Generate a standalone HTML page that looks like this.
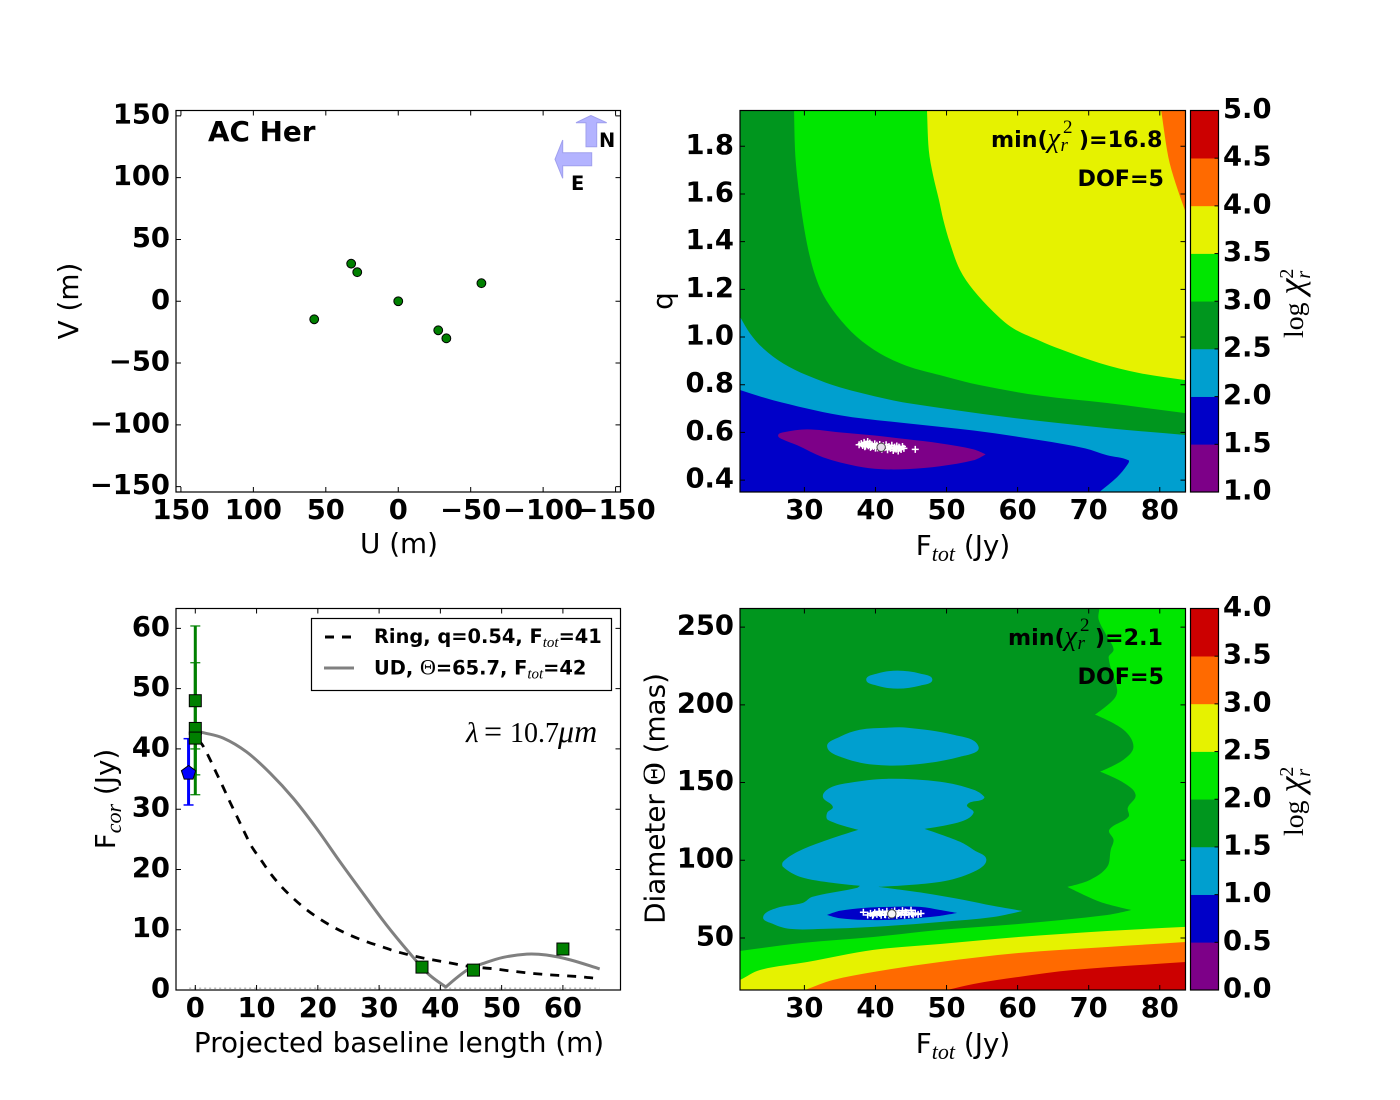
<!DOCTYPE html>
<html lang="en">
<head>
<meta charset="utf-8">
<title>AC Her interferometry fits</title>
<style>
html,body{margin:0;padding:0;background:#fff;}
#chart{display:block;width:1400px;height:1100px;}
text{font-family:"DejaVu Sans","Liberation Sans",sans-serif;fill:#000;}
.tick{font-size:27.4px;font-weight:bold;}
.label{font-size:27.8px;}
.ann{font-size:22.2px;font-weight:bold;}
.leg{font-size:19.4px;font-weight:bold;}
.m{font-family:"Liberation Serif",serif;font-style:italic;font-weight:normal;}
.r{font-family:"Liberation Serif",serif;font-style:normal;font-weight:normal;}
</style>
</head>
<body>
<svg id="chart" xmlns="http://www.w3.org/2000/svg" width="1400" height="1100" viewBox="0 0 1400 1100">
  <rect width="1400" height="1100" fill="#fff"/>
  <g id="layer-marks"></g>

  <g>
    <polygon points="591,115.5 576,122.7 586,122.7 586,146.7 596.7,146.7 596.7,122.7 606.7,122.7" fill="#b3b3ff" stroke="#a0a0ee" stroke-width="1"/>
    <polygon points="555,159.3 562.7,140 562.7,152.7 591.7,152.7 591.7,165.7 562.7,165.7 562.7,178.3" fill="#b3b3ff" stroke="#a0a0ee" stroke-width="1"/>
    <text x="599" y="147" font-size="19.4" font-weight="bold">N</text>
    <text x="571" y="190" font-size="19.4" font-weight="bold">E</text>
  </g>

  <text x="208" y="141" font-size="27.8" font-weight="bold">AC Her</text>
  <text x="399" y="553" text-anchor="middle" class="label">U (m)</text>
  <text transform="translate(78,301) rotate(-90)" text-anchor="middle" class="label">V (m)</text>

  <text x="963" y="555" text-anchor="middle" class="label">F<tspan class="m" font-size="22" dy="6">tot</tspan><tspan dy="-6"> (Jy)</tspan></text>
  <text transform="translate(672,301) rotate(-90)" text-anchor="middle" class="label">q</text>
  <text x="991" y="147" class="ann">min(<tspan class="m" font-size="28">χ</tspan><tspan class="r" font-size="19" dx="3" dy="-14">2</tspan><tspan class="m" font-size="19" dx="-12" dy="18">r</tspan><tspan dx="11" dy="-4">)=16.8</tspan></text>
  <text x="1164" y="186" text-anchor="end" class="ann">DOF=5</text>
  <text transform="translate(1303,338) rotate(-90)" font-size="27.8"><tspan class="r">log</tspan><tspan class="m" font-size="36" dx="8">χ</tspan><tspan class="r" font-size="20" dx="0" dy="-10">2</tspan><tspan class="m" font-size="20" dx="-10" dy="17">r</tspan></text>

  <text x="399" y="1052" text-anchor="middle" class="label">Projected baseline length (m)</text>
  <text transform="translate(115,799) rotate(-90)" text-anchor="middle" class="label">F<tspan class="m" font-size="22" dy="6">cor</tspan><tspan dy="-6"> (Jy)</tspan></text>
  <text y="742" font-size="28"><tspan class="m" x="466" font-size="29">λ</tspan><tspan class="r" x="484" font-size="32">=</tspan><tspan class="r" x="510">10.7</tspan><tspan class="m" x="558" font-size="32">μm</tspan></text>

  <g>
    <rect x="311.5" y="618.5" width="300" height="72" fill="#fff" stroke="#000" stroke-width="1.2"/>
    <line x1="325" y1="637" x2="352" y2="637" stroke="#000" stroke-width="3" stroke-dasharray="9 8"/>
    <line x1="324" y1="668" x2="354" y2="668" stroke="#808080" stroke-width="3"/>
    <text x="374" y="643" class="leg">Ring, q=0.54, F<tspan class="m" font-size="15" dy="4">tot</tspan><tspan dy="-4">=41</tspan></text>
    <text x="374" y="674.5" class="leg">UD, <tspan class="r" font-size="22">Θ</tspan>=65.7, F<tspan class="m" font-size="15" dy="4">tot</tspan><tspan dy="-4">=42</tspan></text>
  </g>

  <text x="963" y="1053" text-anchor="middle" class="label">F<tspan class="m" font-size="22" dy="6">tot</tspan><tspan dy="-6"> (Jy)</tspan></text>
  <text transform="translate(664.5,798.5) rotate(-90)" text-anchor="middle" class="label">Diameter <tspan class="r" font-size="32">Θ</tspan> (mas)</text>
  <text x="1008" y="645" class="ann">min(<tspan class="m" font-size="28">χ</tspan><tspan class="r" font-size="19" dx="3" dy="-14">2</tspan><tspan class="m" font-size="19" dx="-12" dy="18">r</tspan><tspan dx="10" dy="-4">)=2.1</tspan></text>
  <text x="1164" y="684" text-anchor="end" class="ann">DOF=5</text>
  <text transform="translate(1303,836) rotate(-90)" font-size="27.8"><tspan class="r">log</tspan><tspan class="m" font-size="36" dx="8">χ</tspan><tspan class="r" font-size="20" dx="0" dy="-10">2</tspan><tspan class="m" font-size="20" dx="-10" dy="17">r</tspan></text>
</svg>

<script>
// ---------- UV coverage ----------
const uvU = [58, 32.5, 28.3, 0, -27.6, -33.2, -57.4];
const uvV = [-14.6, 30.4, 23.5, 0, -23.5, -30, 14.6];
const uvTicksX = [150, 100, 50, 0, -50, -100, -150];
const uvTicksY = [150, 100, 50, 0, -50, -100, -150];

// ---------- Ring chi2 map (F_tot, q) ----------
const ringTicksX = [30, 40, 50, 60, 70, 80];
const ringTicksY = [0.4, 0.6, 0.8, 1.0, 1.2, 1.4, 1.6, 1.8];
const ringLevels = [1.0, 1.5, 2.0, 2.5, 3.0, 3.5, 4.0, 4.5, 5.0];
const ring40F = [80.2, 81.2, 82.2, 83.62];
const ring40Q = [1.95, 1.755, 1.647, 1.525];
const ring35F = [47.25, 47.5, 48.1, 48.94, 49.55, 50.49, 51.89, 53.77, 56.58, 59.39, 63.15, 66.0, 71.5, 77.1, 83.62];
const ring35Q = [1.95, 1.784, 1.679, 1.574, 1.491, 1.393, 1.281, 1.197, 1.106, 1.036, 0.984, 0.949, 0.891, 0.849, 0.819];
const ring30F = [28.54, 28.68, 28.96, 29.38, 29.85, 30.55, 31.49, 32.66, 34.54, 37.36, 40.64, 44.39, 49.08, 54.7, 63.15, 72.58, 83.62];
const ring30Q = [1.95, 1.784, 1.679, 1.574, 1.477, 1.365, 1.26, 1.176, 1.092, 1.001, 0.931, 0.879, 0.84, 0.798, 0.754, 0.723, 0.681];
const ring25F = [20.94, 22.35, 24.22, 27.03, 30.32, 35.01, 41.58, 44.44, 58.51, 72.58, 83.62];
const ring25Q = [1.085, 1.015, 0.952, 0.889, 0.84, 0.789, 0.74, 0.723, 0.664, 0.618, 0.589];
const ring20F = [20.94, 25.6, 35.0, 44.5, 53.8, 63.2, 69.5, 72.6, 75.6, 75.4, 74.0, 71.5];
const ring20Q = [0.778, 0.735, 0.672, 0.638, 0.608, 0.567, 0.533, 0.504, 0.483, 0.4625, 0.4125, 0.35];
const ring15F = [26.3, 27.0, 30.4, 35.0, 39.7, 44.5, 49.1, 53.8, 55.5, 53.8, 49.1, 44.5, 40.7, 37.4, 32.6, 29.0, 26.9];
const ring15Q = [0.5875, 0.6, 0.6125, 0.6, 0.5875, 0.571, 0.554, 0.529, 0.508, 0.483, 0.458, 0.446, 0.446, 0.458, 0.496, 0.546, 0.571];
const ringCloudF = [37.7,38.0,38.2,38.4,38.5,38.7,38.9,39.0,39.2,39.3,39.5,39.7,39.9,40.0,40.2,40.4,40.6,40.9,41.1,41.3,41.5,41.7,41.9,42.1,42.3,42.5,42.7,42.9,43.0,43.2,43.4,43.6,43.8,44.0,38.6,39.4,40.3,41.6,42.6,43.3,45.6];
const ringCloudQ = [0.548,0.553,0.545,0.558,0.540,0.551,0.562,0.544,0.555,0.537,0.548,0.541,0.552,0.534,0.546,0.538,0.549,0.530,0.544,0.536,0.548,0.527,0.541,0.533,0.546,0.524,0.538,0.530,0.543,0.522,0.535,0.528,0.541,0.533,0.543,0.541,0.535,0.539,0.531,0.538,0.529];
const ringBestF = [40.8];
const ringBestQ = [0.5375];

// ---------- Visibility curves ----------
const visTicksX = [0, 10, 20, 30, 40, 50, 60];
const visTicksY = [0, 10, 20, 30, 40, 50, 60];
const ringCurveX = [0.5, 1.2, 2.24, 3.4, 4.57, 5.7, 6.86, 8.06, 9.2, 10.84, 12.36, 14.2, 16.1, 18.2, 20.6, 22.8, 25.25, 27.7, 30.4, 32.9, 37.2, 41, 44.8, 48.9, 51.9, 56.7, 62.8, 65.7];
const ringCurveY = [41.5, 40.6, 38.6, 36.1, 33.6, 31.1, 28.65, 26.1, 23.8, 21.4, 19.2, 17.0, 15.1, 13.3, 11.6, 10.3, 9.1, 8.1, 7.2, 6.35, 5.3, 4.6, 3.9, 3.5, 3.1, 2.6, 2.2, 1.9];
const udCurveX = [0, 1.3, 4.57, 8.38, 12.2, 16, 19.8, 23.6, 27.4, 31.2, 35, 38, 40.9, 44.5, 47, 50.2, 54.1, 57.3, 61.2, 66];
const udCurveY = [43, 42.7, 41.8, 39.5, 36, 31.8, 26.8, 21.3, 16, 10.8, 6.1, 2.7, 0.5, 3.4, 4.4, 5.4, 5.95, 5.8, 5, 3.5];
const greenX = [0, 0, 0, 37, 45.4, 60];
const greenY = [48, 43.4, 41.8, 3.8, 3.3, 6.8];
const greenLow = [35.7, 32.4, 40, 3.8, 3.3, 6.8];
const greenHigh = [60.4, 54.3, 43.6, 3.8, 3.3, 6.8];
const blueX = [-1.1];
const blueY = [36];
const blueLow = [30.7];
const blueHigh = [41.7];
const zeroLineX = [-1, 66];
const zeroLineY = [0.3, 0.3];

// ---------- UD chi2 map (F_tot, diameter) ----------
const udTicksX = [30, 40, 50, 60, 70, 80];
const udTicksY = [50, 100, 150, 200, 250];
const udLevels = [0.0, 0.5, 1.0, 1.5, 2.0, 2.5, 3.0, 3.5, 4.0];
const ud35F = [50.06, 53.8, 60.1, 67.8, 83.62];
const ud35D = [16.5, 20.4, 24.9, 29.4, 34.5];
const ud30F = [30.1, 34.0, 39.7, 49.1, 60.1, 72.6, 83.62];
const ud30D = [16.5, 22.9, 28.1, 34.5, 40.3, 44.2, 47.4];
const ud25F = [20.94, 23.76, 30.4, 39.7, 49.1, 60.1, 72.6, 83.62];
const ud25D = [22.9, 29.4, 34.5, 42.3, 46.1, 50.6, 54.5, 57.1];
const ud15F = [71.5,71.4,72.6,73.5,72.8,74.0,73.5,70.9,74.9,76.3,74.9,71.6,74.9,76.6,75.5,75.6,72.9,73.5,73.1,72.6,70.2,67.0,71.6,76.0,72.6,60.1,49.1,39.7,29.8,20.94];
const ud15D = [262,254.9,243.9,235.6,230.4,209.8,203.4,193.7,184,173.1,164.7,157,149.9,142.1,133.8,128,119.6,113.1,106.7,95.7,87.4,82.9,73.2,68.0,64.8,59,55.2,50.6,46.8,41.6];
const ud10MainF = [41.6,36.4,33.6,32.6,34.0,33.2,33.3,37.6,32.5,29.0,27.0,27.0,29.4,34.0,37.8,37.4,31.1,29.8,26.1,24.2,25.6,28.0,32.6,39.7,49.1,56.6,60.7,56.6,52.4,46.7,40.4,49.1,53.8,55.6,53.8,51.9,46.9,51.9,53.8,52.9,55.0,55.3,53.8,49.1];
const ud10MainD = [152.4,149.9,146.6,140.9,134.4,130.5,126,119.6,111.9,105.4,99,95.7,89.3,85.4,83.5,82.2,76.4,72.6,69.3,63.5,59,55.8,55.8,57.1,60.3,63.5,67.4,70.6,74.5,79,82.9,86.1,92.5,100.3,106.7,111.9,120.2,124.7,130.5,135.7,138.9,140.9,145.4,150.5];
const ud10MidF = [33.2,35.0,37.8,41.6,44.5,50.9,54.5,51.9,45.3,39.7,35.4];
const ud10MidD = [173.1,179.5,184,185.3,185.3,180.8,173.1,166.6,161.5,161.5,166];
const ud10TopF = [38.7,40.2,43.1,46.3,48,46.3,43.1,40.2];
const ud10TopD = [216.2,220.1,222,220.1,216.2,212.4,210.4,212.4];
const ud05F = [33.2,35.0,38.3,42.1,46.3,49.1,51.5,49.1,46.3,42.1,38.3,35.0];
const ud05D = [64.8,67.5,69.3,70,70,68,66.1,64.2,62.9,61.6,61.6,62.7];
const udCloudF = [38.3,38.9,39.3,39.6,39.9,40.2,40.5,40.8,41.0,41.3,41.6,41.9,42.1,42.4,42.7,43.0,43.3,43.6,43.8,44.1,44.4,44.7,45.0,45.3,45.6,46.0,46.4,39.7,40.6,41.4,42.3,43.2,44.2,45.1];
const udCloudD = [66.5,64.8,65.8,64.4,66.2,65.2,67,64.6,66.4,65.1,67.2,64.8,66,65,67.4,64.6,66.2,65.2,67.6,64.7,66.3,65,67.8,64.9,66,65.2,65.7,65.2,65.9,64.9,66.7,65.7,66.6,65.6];
const udBestF = [42.3];
const udBestD = [65.5];

// ---------- Shared band colours, low to high ----------
const bandColors = ['#7d0088', '#0000c8', '#009fcf', '#00961e', '#00e600', '#e6f200', '#ff6a00', '#cc0000'];

// ---------- Helpers ----------
const NS = 'http://www.w3.org/2000/svg';
const root = document.getElementById('layer-marks');
function scale(d0, d1, p0, p1) {
  return function (v) { return p0 + (v - d0) * (p1 - p0) / (d1 - d0); };
}
function make(tag, props) {
  const node = document.createElementNS(NS, tag);
  for (const k in props) node.setAttribute(k, props[k]);
  root.appendChild(node);
  return node;
}
// Smooth curve through the mapped points; bends whose cosine falls below cornerCos stay sharp.
function curveThrough(pts, closed, cornerCos) {
  const n = pts.length;
  const dirs = pts.map(function (p, i) {
    const prev = closed ? pts[(i - 1 + n) % n] : pts[Math.max(i - 1, 0)];
    const next = closed ? pts[(i + 1) % n] : pts[Math.min(i + 1, n - 1)];
    const ax = p[0] - prev[0], ay = p[1] - prev[1];
    const bx = next[0] - p[0], by = next[1] - p[1];
    const la = Math.hypot(ax, ay), lb = Math.hypot(bx, by);
    const cx = next[0] - prev[0], cy = next[1] - prev[1];
    const lc = Math.hypot(cx, cy) || 1;
    if (la > 0 && lb > 0 && (ax * bx + ay * by) / (la * lb) < cornerCos) return [0, 0];
    return [cx / lc, cy / lc];
  });
  let d = '';
  const count = closed ? n : n - 1;
  for (let i = 0; i < count; i++) {
    const j = (i + 1) % n;
    const len = Math.hypot(pts[j][0] - pts[i][0], pts[j][1] - pts[i][1]) / 3;
    d += 'C' + (pts[i][0] + dirs[i][0] * len).toFixed(2) + ' ' + (pts[i][1] + dirs[i][1] * len).toFixed(2) + ' ' +
      (pts[j][0] - dirs[j][0] * len).toFixed(2) + ' ' + (pts[j][1] - dirs[j][1] * len).toFixed(2) + ' ' +
      pts[j][0].toFixed(2) + ' ' + pts[j][1].toFixed(2);
  }
  return d;
}
function mapped(xs, ys, sx, sy) {
  return xs.map(function (x, i) { return [sx(x), sy(ys[i])]; });
}
function fillRegion(xs, ys, sx, sy, color, name, prefix, suffix, cornerCos) {
  const pts = mapped(xs, ys, sx, sy);
  const closed = !prefix && !suffix;
  const limit = cornerCos !== undefined ? cornerCos : (closed ? -0.5 : 0);
  let d = '';
  (prefix || []).forEach(function (p, i) { d += (i ? 'L' : 'M') + p[0] + ' ' + p[1]; });
  d += (d ? 'L' : 'M') + pts[0][0].toFixed(2) + ' ' + pts[0][1].toFixed(2);
  d += curveThrough(pts, closed, limit);
  (suffix || []).forEach(function (p) { d += 'L' + p[0] + ' ' + p[1]; });
  d += 'Z';
  const el = make('path', { d: d, fill: color });
  
  
}
function drawLine(xs, ys, sx, sy, stroke, width, dash, name) {
  const pts = mapped(xs, ys, sx, sy);
  const d = 'M' + pts[0][0].toFixed(2) + ' ' + pts[0][1].toFixed(2) + curveThrough(pts, false, 0.4);
  const el = make('path', { d: d, fill: 'none', stroke: stroke, 'stroke-width': width, 'stroke-linejoin': 'round' });
  if (dash) el.setAttribute('stroke-dasharray', dash);
  
  
}
function drawPlus(xs, ys, sx, sy, name) {
  for (let i = 0; i < xs.length; i++) {
    const px = sx(xs[i]);
    const py = sy(ys[i]);
    const el = make('path', { d: 'M' + (px - 3.5) + ' ' + py + 'H' + (px + 3.5) + 'M' + px + ' ' + (py - 3.5) + 'V' + (py + 3.5), stroke: '#fff', 'stroke-width': 1.5, fill: 'none' });
    
    
  }
}
function drawBest(xs, ys, sx, sy, fill, name) {
  for (let i = 0; i < xs.length; i++) {
    const el = make('circle', { cx: sx(xs[i]), cy: sy(ys[i]), r: 4.2, fill: fill, stroke: '#444', 'stroke-width': 1 });
    
    
  }
}
function fmt(v, digits) {
  const s = Math.abs(v).toFixed(digits);
  return (v < 0 ? '\u2212' : '') + s;
}
function axes(box, sx, sy, xt, yt, digitsX, digitsY, key) {
  const frame = make('rect', { x: box.l, y: box.t, width: box.r - box.l, height: box.b - box.t, fill: 'none', stroke: '#000', 'stroke-width': 1.2 });
  
  
  xt.forEach(function (v) {
    const px = sx(v);
    const tk = make('path', { d: 'M' + px + ' ' + box.b + 'v-5M' + px + ' ' + box.t + 'v5', stroke: '#000', 'stroke-width': 1, fill: 'none' });
    
    
    const lb = make('text', { x: px, y: box.b + 27, 'text-anchor': 'middle', class: 'tick' });
    
    
    lb.textContent = fmt(v, digitsX);
  });
  yt.forEach(function (v) {
    const py = sy(v);
    const tk = make('path', { d: 'M' + box.l + ' ' + py + 'h5M' + box.r + ' ' + py + 'h-5', stroke: '#000', 'stroke-width': 1, fill: 'none' });
    
    
    const lb = make('text', { x: box.l - 6, y: py + 7.5, 'text-anchor': 'end', class: 'tick' });
    
    
    lb.textContent = fmt(v, digitsY);
  });
}
function colorbar(box, levels, key) {
  const sv = scale(levels[0], levels[levels.length - 1], box.b, box.t);
  for (let i = 0; i < levels.length - 1; i++) {
    const band = make('rect', { x: box.l, y: sv(levels[i + 1]), width: box.r - box.l, height: sv(levels[i]) - sv(levels[i + 1]) + 0.3, fill: bandColors[i] });
    
    
  }
  const frame = make('rect', { x: box.l, y: box.t, width: box.r - box.l, height: box.b - box.t, fill: 'none', stroke: '#000', 'stroke-width': 1.2 });
  
  
  levels.forEach(function (v) {
    const py = sv(v);
    const tk = make('line', { x1: box.r - 4, x2: box.r, y1: py, y2: py, stroke: '#000', 'stroke-width': 1 });
    
    
    const lb = make('text', { x: box.r + 4.5, y: py + 7.5, class: 'tick' });
    
    
    lb.textContent = v.toFixed(1);
  });
}

// ---------- Panel boxes ----------
const boxUV = { l: 176, r: 620.5, t: 110.5, b: 492 };
const boxRing = { l: 740, r: 1185.5, t: 110.5, b: 492 };
const boxVis = { l: 176, r: 620.5, t: 608.5, b: 990 };
const boxUD = { l: 740, r: 1185.5, t: 608.5, b: 990 };

// ---------- UV panel ----------
(function () {
  const sx = scale(153.4, -153.4, boxUV.l, boxUV.r);
  const sy = scale(-154.3, 154.3, boxUV.b, boxUV.t);
  uvU.forEach(function (u, i) {
    const el = make('circle', { cx: sx(u), cy: sy(uvV[i]), r: 4.4, fill: '#008000', stroke: '#000', 'stroke-width': 1 });
    
    
  });
  axes(boxUV, sx, sy, uvTicksX, uvTicksY, 0, 0, 'uv');
})();

// ---------- Ring map ----------
(function () {
  const sx = scale(20.94, 83.62, boxRing.l, boxRing.r);
  const sy = scale(0.35, 1.95, boxRing.b, boxRing.t);
  const L = boxRing.l, R = boxRing.r, T = boxRing.t, B = boxRing.b;
  const base = make('rect', { x: L, y: T, width: R - L, height: B - T, fill: bandColors[6] });
  
  
  fillRegion(ring40F, ring40Q, sx, sy, bandColors[5], 'ring-band-3-5', [[L, T]], [[R, B], [L, B]]);
  fillRegion(ring35F, ring35Q, sx, sy, bandColors[4], 'ring-band-3-0', [[L, T]], [[R, B], [L, B]]);
  fillRegion(ring30F, ring30Q, sx, sy, bandColors[3], 'ring-band-2-5', [[L, T]], [[R, B], [L, B]]);
  fillRegion(ring25F, ring25Q, sx, sy, bandColors[2], 'ring-band-2-0', [], [[R, B], [L, B]]);
  fillRegion(ring20F, ring20Q, sx, sy, bandColors[1], 'ring-band-1-5', [], [[L, B]], -0.5);
  fillRegion(ring15F, ring15Q, sx, sy, bandColors[0], 'ring-band-1-0');
  drawPlus(ringCloudF, ringCloudQ, sx, sy, 'ring-bootstrap-point');
  drawBest(ringBestF, ringBestQ, sx, sy, '#e6dcea', 'ring-best-fit');
  axes(boxRing, sx, sy, ringTicksX, ringTicksY, 0, 1, 'ring-map');
  colorbar({ l: 1190.5, r: 1218.5, t: 110.5, b: 492 }, ringLevels, 'ring-colorbar');
})();

// ---------- Visibility panel ----------
(function () {
  const sx = scale(-3.15, 69.4, boxVis.l, boxVis.r);
  const sy = scale(0, 63.3, boxVis.b, boxVis.t);
  drawLine(zeroLineX, zeroLineY, sx, sy, '#bbbbbb', 1.5, '2 3', 'zero-line');
  drawLine(ringCurveX, ringCurveY, sx, sy, '#000', 2.8, '9 8', 'ring-model-curve');
  drawLine(udCurveX, udCurveY, sx, sy, '#808080', 3, null, 'ud-model-curve');
  greenX.forEach(function (x, i) {
    if (greenHigh[i] === greenLow[i]) return;
    const px = sx(x);
    const bar = make('line', { x1: px, x2: px, y1: sy(greenLow[i]), y2: sy(greenHigh[i]), stroke: '#008000', 'stroke-width': 3 });
    
    
    [greenLow[i], greenHigh[i]].forEach(function (v) {
      const cap = make('line', { x1: px - 5, x2: px + 5, y1: sy(v), y2: sy(v), stroke: '#008000', 'stroke-width': 1.2 });
      
      
    });
  });
  blueX.forEach(function (x, i) {
    const px = sx(x);
    const bar = make('line', { x1: px, x2: px, y1: sy(blueLow[i]), y2: sy(blueHigh[i]), stroke: '#0000ff', 'stroke-width': 3 });
    
    
    [blueLow[i], blueHigh[i]].forEach(function (v) {
      const cap = make('line', { x1: px - 5, x2: px + 5, y1: sy(v), y2: sy(v), stroke: '#0000ff', 'stroke-width': 1.5 });
      
      
    });
  });
  greenX.forEach(function (x, i) {
    const el = make('rect', { x: sx(x) - 6, y: sy(greenY[i]) - 6, width: 12, height: 12, fill: '#008000', stroke: '#000', 'stroke-width': 1 });
    
    
  });
  blueX.forEach(function (x, i) {
    const pts = [];
    for (let k = 0; k < 5; k++) {
      const a = -Math.PI / 2 + k * 2 * Math.PI / 5;
      pts.push((sx(x) + 7.5 * Math.cos(a)).toFixed(1) + ',' + (sy(blueY[i]) + 7.5 * Math.sin(a)).toFixed(1));
    }
    const el = make('polygon', { points: pts.join(' '), fill: '#0000ff', stroke: '#000', 'stroke-width': 1 });
    
    
  });
  axes(boxVis, sx, sy, visTicksX, visTicksY, 0, 0, 'visibility');
})();

// ---------- UD map ----------
(function () {
  const sx = scale(20.94, 83.62, boxUD.l, boxUD.r);
  const sy = scale(16.5, 262, boxUD.b, boxUD.t);
  const L = boxUD.l, R = boxUD.r, T = boxUD.t, B = boxUD.b;
  const base = make('rect', { x: L, y: T, width: R - L, height: B - T, fill: bandColors[7] });
  
  
  fillRegion(ud35F, ud35D, sx, sy, bandColors[6], 'ud-band-3-0', [], [[R, T], [L, T], [L, B]]);
  fillRegion(ud30F, ud30D, sx, sy, bandColors[5], 'ud-band-2-5', [], [[R, T], [L, T], [L, B]]);
  fillRegion(ud25F, ud25D, sx, sy, bandColors[4], 'ud-band-2-0', [], [[R, T], [L, T]]);
  fillRegion(ud15F, ud15D, sx, sy, bandColors[3], 'ud-band-1-5', [[L, T]], []);
  fillRegion(ud10MainF, ud10MainD, sx, sy, bandColors[2], 'ud-band-1-0-main');
  fillRegion(ud10MidF, ud10MidD, sx, sy, bandColors[2], 'ud-band-1-0-middle', undefined, undefined, -0.97);
  fillRegion(ud10TopF, ud10TopD, sx, sy, bandColors[2], 'ud-band-1-0-top', undefined, undefined, -0.97);
  fillRegion(ud05F, ud05D, sx, sy, bandColors[1], 'ud-band-0-5');
  drawPlus(udCloudF, udCloudD, sx, sy, 'ud-bootstrap-point');
  drawBest(udBestF, udBestD, sx, sy, '#f4f4f4', 'ud-best-fit');
  axes(boxUD, sx, sy, udTicksX, udTicksY, 0, 0, 'ud-map');
  colorbar({ l: 1190.5, r: 1218.5, t: 608.5, b: 990 }, udLevels, 'ud-colorbar');
})();
</script>
</body>
</html>
